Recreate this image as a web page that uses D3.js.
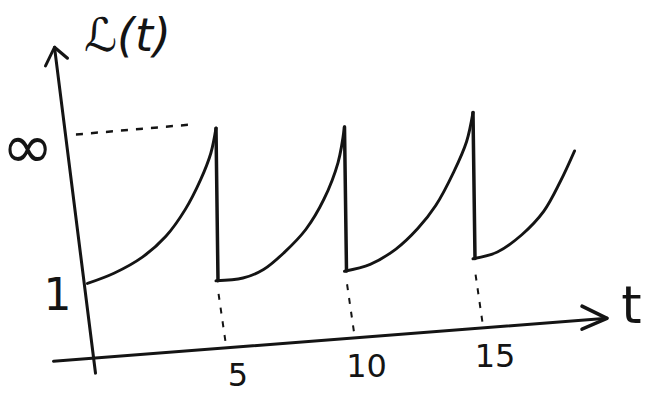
<!DOCTYPE html>
<html>
<head>
<meta charset="utf-8">
<script src="https://cdn.jsdelivr.net/npm/d3@7"></script>
<style>
  html, body { margin: 0; padding: 0; background: #fff; }
  svg { display: block; }
</style>
</head>
<body>
<svg id="chart" width="646" height="396"></svg>
<script>
// ---- data ----
const t1 = [0, 1.05, 2.15, 3.05, 3.8, 4.4, 4.8, 5];
const L1 = [1.09, 1.21, 1.41, 1.68, 2.04, 2.45, 2.82, 3.17];
const t2 = [5, 6.05, 6.85, 7.65, 8.5, 9.2, 9.75, 10];
const L2 = [0.99, 1.00, 1.10, 1.32, 1.63, 2.04, 2.55, 3.05];
const t3 = [10, 11, 12, 12.85, 13.55, 14.25, 14.75, 15];
const L3 = [0.99, 1.06, 1.25, 1.52, 1.83, 2.29, 2.71, 3.12];
const t4 = [15, 15.95, 16.9, 17.75, 18.4, 18.95];
const L4 = [1.03, 1.10, 1.32, 1.63, 2.04, 2.46];

const resetTimes = [5, 10, 15];
const xTickLabels = ["5", "10", "15"];
const yTickValues = [1, 3.23];
const yTickLabels = ["1", "\u221E"];
const yAxisLabel = "\u2112(t)";
const xAxisLabel = "t";

// ---- scales (local, untilted frame; origin at axis crossing) ----
const x = d3.scaleLinear().domain([0, 20]).range([-3, 511]);
const y = d3.scaleLinear().domain([0, 4.5]).range([0, -315]);

const svg = d3.select("#chart");
const ink = "#141414";
// the hand-drawn sketch is tilted: shear the whole drawing
const shear = 0.075;
const g = svg.append("g")
  .attr("transform", `translate(90.5,359.5) matrix(1,${-shear},0,1,0,0)`);

const upright = (px, py) => `translate(${px},${py}) matrix(1,${shear},0,1,0,0)`;

// ---- axes ----
const yBottom = [x(0) + 8, y(-0.2)];
const yTop = [x(0) - 33, y(4.5)];
g.append("line")
  .attr("x1", yBottom[0]).attr("y1", yBottom[1])
  .attr("x2", yTop[0]).attr("y2", yTop[1])
  .attr("stroke", ink).attr("stroke-width", 3).attr("stroke-linecap", "round");
g.append("path")
  .attr("d", `M${yTop[0] - 9},${yTop[1] + 18} L${yTop[0]},${yTop[1]} L${yTop[0] + 13},${yTop[1] + 12}`)
  .attr("fill", "none").attr("stroke", ink).attr("stroke-width", 3)
  .attr("stroke-linecap", "round").attr("stroke-linejoin", "round");

const xLeft = [x(0) - 34, y(0.015)];
const xTip = [x(20) + 5.5, y(0.035)];
g.append("line")
  .attr("x1", xLeft[0]).attr("y1", xLeft[1])
  .attr("x2", xTip[0]).attr("y2", xTip[1])
  .attr("stroke", ink).attr("stroke-width", 3).attr("stroke-linecap", "round");
g.append("path")
  .attr("d", `M${xTip[0] - 25},${xTip[1] - 14} L${xTip[0]},${xTip[1]} L${xTip[0] - 25},${xTip[1] + 9}`)
  .attr("fill", "none").attr("stroke", ink).attr("stroke-width", 3.5)
  .attr("stroke-linecap", "round").attr("stroke-linejoin", "round");

// ---- dashed guide for the infinity level ----
g.append("line")
  .attr("x1", x(-0.45)).attr("y1", y(yTickValues[1]))
  .attr("x2", x(4.2)).attr("y2", y(yTickValues[1] + 0.02))
  .attr("stroke", ink).attr("stroke-width", 2.5)
  .attr("stroke-dasharray", "7,8");

// ---- dashed drops from reset points to the time axis ----
g.selectAll("line.reset")
  .data(resetTimes)
  .join("line")
  .attr("class", "reset")
  .attr("x1", d => x(d + 0.1)).attr("y1", y(0.8))
  .attr("x2", d => x(d + 0.4)).attr("y2", y(0.03))
  .attr("stroke", ink).attr("stroke-width", 2)
  .attr("stroke-dasharray", "6,8");

// ---- curve segments ----
const segments = [[t1, L1], [t2, L2], [t3, L3], [t4, L4]];
const line = d3.line()
  .x(d => x(d[0])).y(d => y(d[1]))
  .curve(d3.curveCatmullRom.alpha(0.5));

g.selectAll("path.seg")
  .data(segments.map(([ts, ls]) => ts.map((t, i) => [t, ls[i]])))
  .join("path")
  .attr("class", "seg")
  .attr("d", line)
  .attr("fill", "none").attr("stroke", ink).attr("stroke-width", 3)
  .attr("stroke-linecap", "round").attr("stroke-linejoin", "round");

// vertical drops at resets
const drops = resetTimes.map((t, i) => [t, segments[i][1][segments[i][1].length - 1], segments[i + 1][1][0]]);
g.selectAll("line.drop")
  .data(drops)
  .join("line")
  .attr("class", "drop")
  .attr("x1", d => x(d[0])).attr("y1", d => y(d[1]))
  .attr("x2", d => x(d[0]) + 2).attr("y2", d => y(d[2]))
  .attr("stroke", ink).attr("stroke-width", 3.5).attr("stroke-linecap", "round");

// ---- text ----
const font = "'DejaVu Sans', sans-serif";
g.selectAll("text.xt")
  .data(resetTimes)
  .join("text")
  .attr("class", "xt")
  .attr("transform", d => upright(x(d) + 22, 38))
  .attr("text-anchor", "middle")
  .attr("font-family", font).attr("font-size", 32).attr("fill", ink)
  .text((d, i) => xTickLabels[i]);

g.append("text")
  .attr("transform", upright(x(0) - 30, y(yTickValues[0]) + 18))
  .attr("text-anchor", "middle")
  .attr("font-family", font).attr("font-size", 44).attr("fill", ink)
  .text(yTickLabels[0]);

g.append("text")
  .attr("transform", upright(x(0) - 60, y(yTickValues[1]) + 30))
  .attr("text-anchor", "middle")
  .attr("font-family", font).attr("font-size", 62).attr("fill", ink)
  .text(yTickLabels[1]);

g.append("text")
  .attr("transform", upright(x(20) + 30, 4))
  .attr("text-anchor", "middle")
  .attr("font-family", font).attr("font-size", 52).attr("fill", ink)
  .text(xAxisLabel);

g.append("text")
  .attr("transform", upright(x(0) + 40, y(4.5) + 9))
  .attr("text-anchor", "middle")
  .attr("font-family", font).attr("font-style", "italic")
  .attr("font-size", 46).attr("fill", ink)
  .text(yAxisLabel);
</script>
</body>
</html>
